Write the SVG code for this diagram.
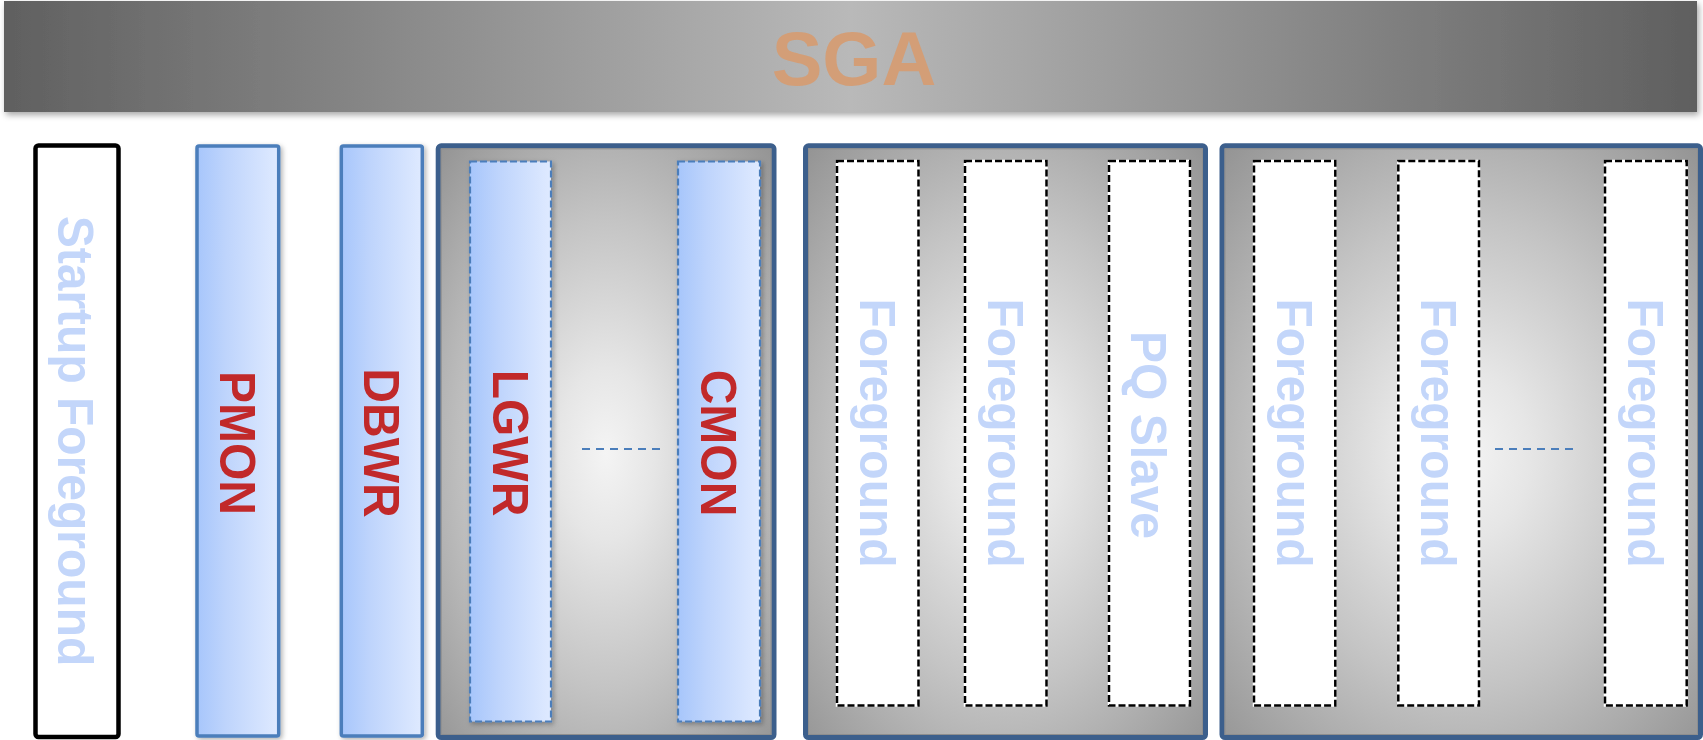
<svg xmlns="http://www.w3.org/2000/svg" width="1703" height="740" viewBox="0 0 1703 740">
<style>
.lbl{font-family:"Liberation Sans",Arial,Helvetica,sans-serif;font-weight:bold;font-size:48px;text-anchor:middle}
.blue{fill:#c3d6fa}
.red{fill:#c1292a}
.solidblue{fill:url(#blueFill);stroke:#4b7ebb;stroke-width:3.5}
.dashblue{fill:url(#blueFill);stroke:#4b7ebb;stroke-width:2.2;stroke-dasharray:7 3}
.dashblack{fill:#ffffff;stroke:#000;stroke-width:2.5;stroke-dasharray:7 3}
.under{fill:none;stroke:#ffffff;stroke-width:2.5}
.grp{fill:url(#grpFill);stroke:#3c5f8c;stroke-width:5}
.grpin{fill:none;stroke:#8e8e8e;stroke-width:1}
.dots{fill:none;stroke:#4b7ebb;stroke-width:2.2;stroke-dasharray:8 6}
</style>
<defs>
<linearGradient id="sgaFill" x1="0" y1="0" x2="1" y2="0">
<stop offset="0" stop-color="#606060"/>
<stop offset="0.5" stop-color="#b9b9b9"/>
<stop offset="1" stop-color="#5f5f5f"/>
</linearGradient>
<linearGradient id="blueFill" x1="0" y1="0" x2="1" y2="0">
<stop offset="0" stop-color="#a7c6fb"/>
<stop offset="0.35" stop-color="#bed4fc"/>
<stop offset="1" stop-color="#dfeaff"/>
</linearGradient>
<radialGradient id="grpFill" cx="0.5" cy="0.52" r="0.72">
<stop offset="0" stop-color="#f4f4f4"/>
<stop offset="0.2" stop-color="#e6e6e6"/>
<stop offset="0.55" stop-color="#c4c4c4"/>
<stop offset="1" stop-color="#939393"/>
</radialGradient>
<filter id="shadow" x="-20%" y="-20%" width="140%" height="140%">
<feDropShadow dx="2" dy="3" stdDeviation="3" flood-color="#000" flood-opacity="0.35"/>
</filter>
<filter id="shadowSm" x="-20%" y="-10%" width="140%" height="120%">
<feDropShadow dx="2" dy="2" stdDeviation="2.5" flood-color="#000" flood-opacity="0.3"/>
</filter>
</defs>

<g id="sga">
<rect x="4" y="1" width="1693" height="111" fill="url(#sgaFill)" filter="url(#shadow)"/>
<text x="854" y="85" font-family="'Liberation Sans',Arial,sans-serif" font-weight="bold" font-size="76" fill="#d39e77" text-anchor="middle">SGA</text>
</g>

<g id="startup">
<rect x="35.5" y="145.5" width="83" height="591.5" rx="3" fill="#fff" stroke="#000" stroke-width="4.5"/>
<text class="lbl blue" transform="translate(58,441) rotate(90) scale(1,1.05)">Startup Foreground</text>
</g>

<g id="pmon">
<rect class="solidblue" x="197" y="146" width="81.7" height="590" rx="2" filter="url(#shadowSm)"/>
<text class="lbl red" transform="translate(220,443) rotate(90) scale(1,1.05)">PMON</text>
</g>

<g id="dbwr">
<rect class="solidblue" x="341.3" y="146" width="81" height="590" rx="2" filter="url(#shadowSm)"/>
<text class="lbl red" transform="translate(364,443) rotate(90) scale(1,1.05)">DBWR</text>
</g>

<g id="group1">
<rect class="grp" x="438.2" y="145.8" width="335.8" height="591.7" rx="3"/>
<rect class="grpin" x="441.2" y="148.8" width="329.8" height="585.7"/>
</g>
<g id="lgwr">
<rect class="dashblue" x="470" y="161.5" width="81" height="560" filter="url(#shadowSm)"/>
<text class="lbl red" transform="translate(492.5,443) rotate(90) scale(1,1.05)">LGWR</text>
</g>
<g id="cmon">
<rect class="dashblue" x="678" y="161.5" width="82" height="560" filter="url(#shadowSm)"/>
<text class="lbl red" transform="translate(701,443) rotate(90) scale(1,1.05)">CMON</text>
</g>

<g id="group2">
<rect class="grp" x="805.5" y="145.8" width="400" height="591.7" rx="3"/>
<rect class="grpin" x="808.5" y="148.8" width="394" height="585.7"/>
</g>
<g id="fg1">
<rect class="under" x="837" y="161" width="81.5" height="544.5"/>
<rect class="dashblack" x="837" y="161" width="81.5" height="544.5"/>
<text class="lbl blue" transform="translate(860,433) rotate(90) scale(1,1.05)">Foreground</text>
</g>
<g id="fg2">
<rect class="under" x="965" y="161" width="81.5" height="544.5"/>
<rect class="dashblack" x="965" y="161" width="81.5" height="544.5"/>
<text class="lbl blue" transform="translate(988,433) rotate(90) scale(1,1.05)">Foreground</text>
</g>
<g id="pqslave">
<rect class="under" x="1109" y="161" width="81" height="544.5"/>
<rect class="dashblack" x="1109" y="161" width="81" height="544.5"/>
<text class="lbl blue" transform="translate(1131,435) rotate(90) scale(1,1.05)">PQ Slave</text>
</g>

<g id="group3">
<rect class="grp" x="1222" y="145.8" width="478.5" height="591.7" rx="3"/>
<rect class="grpin" x="1225" y="148.8" width="472.5" height="585.7"/>
</g>
<g id="fg3">
<rect class="under" x="1254" y="161" width="81.3" height="544.5"/>
<rect class="dashblack" x="1254" y="161" width="81.3" height="544.5"/>
<text class="lbl blue" transform="translate(1277,433) rotate(90) scale(1,1.05)">Foreground</text>
</g>
<g id="fg4">
<rect class="under" x="1398.3" y="161" width="80.7" height="544.5"/>
<rect class="dashblack" x="1398.3" y="161" width="80.7" height="544.5"/>
<text class="lbl blue" transform="translate(1421,433) rotate(90) scale(1,1.05)">Foreground</text>
</g>
<g id="fg5">
<rect class="under" x="1605" y="161" width="81.7" height="544.5"/>
<rect class="dashblack" x="1605" y="161" width="81.7" height="544.5"/>
<text class="lbl blue" transform="translate(1628,433) rotate(90) scale(1,1.05)">Foreground</text>
</g>

<g id="connectors">
<line class="dots" x1="582" y1="449" x2="660" y2="449"/>
<line class="dots" x1="1495" y1="449" x2="1573" y2="449"/>
</g>
</svg>
